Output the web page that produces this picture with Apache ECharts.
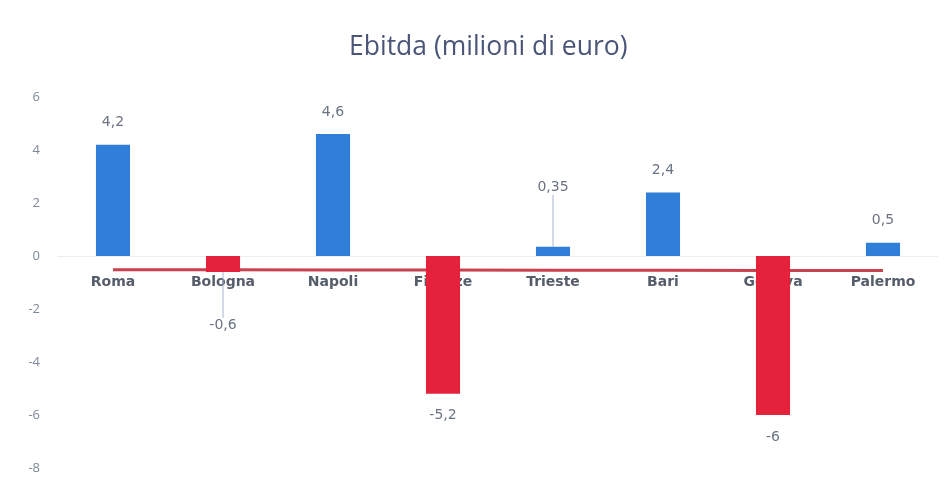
<!DOCTYPE html>
<html>
<head>
<meta charset="utf-8">
<script src="https://cdn.jsdelivr.net/npm/echarts@6/dist/echarts.min.js"></script>
<style>html,body{margin:0;padding:0;background:#fff}#c{width:952px;height:491px}</style>
</head>
<body>
<div id="c"></div>
<script>
var titleText = 'Ebitda (milioni di euro)';
var categories = ['Roma', 'Bologna', 'Napoli', 'Firenze', 'Trieste', 'Bari', 'Genova', 'Palermo'];
var values = [4.2, -0.6, 4.6, -5.2, 0.35, 2.4, -6, 0.5];
var valueLabels = ['4,2', '-0,6', '4,6', '-5,2', '0,35', '2,4', '-6', '0,5'];
var redLine = [-0.52, -0.52, -0.53, -0.53, -0.54, -0.54, -0.55, -0.55];
var yTicks = { min: -8, max: 6, interval: 2 };

var blue = '#2f7fd8', red = '#e5223c';
var movedLabels = { 1: 31, 4: -37 };
var barData = values.map(function (v, i) {
  return {
    value: v,
    itemStyle: { color: v < 0 ? red : blue },
    label: { position: v < 0 ? 'bottom' : 'top' },
    labelLine: { show: movedLabels[i] !== undefined }
  };
});

var gridTop = 97, gridBottom = 23, H = 491;
var plotH = H - gridTop - gridBottom;
var zeroFromBottom = plotH * (0 - yTicks.min) / (yTicks.max - yTicks.min);

var chart = echarts.init(document.getElementById('c'));
chart.setOption({
  animation: false,
  backgroundColor: '#fff',
  title: {
    text: titleText, left: 344, top: 29,
    textStyle: { fontFamily: 'Open Sans', fontWeight: 'normal', fontSize: 26.5, color: '#4a5578' }
  },
  grid: { left: 58, right: 14, top: gridTop, bottom: gridBottom, containLabel: false, outerBoundsMode: 'none' },
  xAxis: {
    type: 'category', data: categories, position: 'bottom',
    offset: -zeroFromBottom,
    axisLine: { onZero: false, lineStyle: { color: '#ededed' } },
    axisTick: { show: false },
    axisLabel: { margin: 19, fontFamily: 'DejaVu Sans', fontWeight: 'bold', fontSize: 14, color: '#555d6b' }
  },
  yAxis: {
    type: 'value', min: yTicks.min, max: yTicks.max, interval: yTicks.interval,
    axisLine: { show: false }, axisTick: { show: false }, splitLine: { show: false },
    axisLabel: { margin: 18, fontFamily: 'Open Sans', fontSize: 13, color: '#7d8898' }
  },
  series: [
    {
      type: 'line', data: redLine, symbol: 'none', z: 1,
      lineStyle: { color: '#c8414f', width: 3 }, silent: true
    },
    {
      type: 'bar', data: barData, barWidth: '31%', z: 3,
      label: {
        show: true, distance: 15, fontFamily: 'DejaVu Sans', fontSize: 14, color: '#6a7383',
        formatter: function (p) { return valueLabels[p.dataIndex]; }
      },
      labelLine: { lineStyle: { color: '#a8b4d0', width: 1 } },
      labelLayout: function (p) {
        var d = movedLabels[p.dataIndex];
        return d !== undefined ? { dy: d } : {};
      }
    }
  ]
});
</script>
</body>
</html>
